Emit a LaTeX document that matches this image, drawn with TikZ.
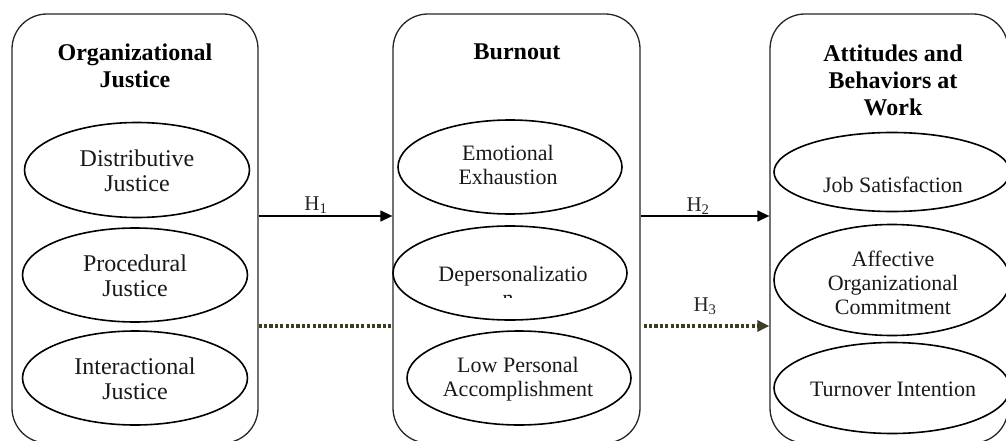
\documentclass[tikz,border=0pt]{standalone}
\usepackage{fontspec}
\setmainfont{Liberation Serif}
\usetikzlibrary{shapes.geometric,arrows.meta}
\definecolor{olivedot}{HTML}{3E3C22}
\tikzset{
  panel/.style={draw=black!85, line width=1.3pt, rounded corners=35pt, minimum width=#1, minimum height=429pt, inner sep=0pt},
  ell/.style={draw, ellipse, line width=1.6pt, inner sep=0pt},
  txt/.style={align=center, font=\fontsize{22}{24}\selectfont, inner sep=0pt, text=black!90},
  txtl/.style={align=center, font=\fontsize{24}{25}\selectfont, inner sep=0pt, text=black!90},
  ttl/.style={align=center, font=\fontsize{24}{27}\selectfont\bfseries, inner sep=0pt},
  hl/.style={font=\fontsize{21}{24}\selectfont, inner sep=0pt, text=black!85},
  arr/.style={line width=1.3pt, -{Triangle[length=12pt,width=11pt]}},
  dotarr/.style={line width=3.2pt, olivedot, dash pattern=on 3.2pt off 2.2pt, -{Triangle[length=12pt,width=11pt]}},
  dotline/.style={line width=3.2pt, olivedot, dash pattern=on 3.2pt off 2.2pt}
}
\begin{document}
\begin{tikzpicture}[x=1pt,y=-1pt]
\useasboundingbox (0,0) rectangle (1006,441);
\clip (0,0) rectangle (1006,441);
% panels
\node[panel=246pt] (lp) at (135,228.5) {};
\node[panel=247pt] (mp) at (516.5,228.5) {};
\node[panel=238pt] (rp) at (889,228.5) {};
% titles
\node[ttl] (t1) at (135,66) {Organizational\\Justice};
\node[ttl] (t2) at (517,52) {Burnout};
\node[ttl] (t3) at (893,80) {Attitudes and\\Behaviors at\\Work};
% left ellipses
\node[ell, minimum width=225pt, minimum height=95pt] (e1) at (137,170) {};
\node[txtl] (x1) at (137,171) {Distributive\\Justice};
\node[ell, minimum width=225pt, minimum height=94pt] (e2) at (135,275) {};
\node[txtl] (x2) at (135,276) {Procedural\\Justice};
\node[ell, minimum width=225pt, minimum height=94pt] (e3) at (135,378) {};
\node[txtl] (x3) at (135,379) {Interactional\\Justice};
% middle ellipses
\node[ell, minimum width=224pt, minimum height=94pt] (e4) at (510,167) {};
\node[txt] (x4) at (508,165) {Emotional\\Exhaustion};
\node[ell, minimum width=234pt, minimum height=94pt] (e5) at (510,273) {};
\node[txt] (x5) at (513,276) {Depersonalizatio};
\begin{scope}
\clip (490,289) rectangle (530,297);
\node[txt] (x5b) at (508,300) {n};
\end{scope}
\node[ell, minimum width=224pt, minimum height=94pt] (e6) at (519,378) {};
\node[txt] (x6) at (518,379) {Low Personal\\Accomplishment};
% right ellipses
\node[ell, minimum width=236pt, minimum height=79pt] (e7) at (892,172) {};
\node[txt] (x7) at (893,185) {Job Satisfaction};
\node[ell, minimum width=236pt, minimum height=111pt] (e8) at (892,280) {};
\node[txt] (x8) at (893,283) {Affective\\Organizational\\Commitment};
\node[ell, minimum width=236pt, minimum height=91pt] (e9) at (892,388) {};
\node[txt] (x9) at (893,389) {Turnover Intention};
% connectors
\draw[arr] (lp.east |- 0,216) -- (mp.west |- 0,216);
\draw[arr] (mp.east |- 0,216) -- (rp.west |- 0,216);
\draw[dotline] (lp.east |- 0,326) -- (mp.west |- 0,326);
\draw[dotarr] ([xshift=3pt]mp.east |- 0,326) -- (rp.west |- 0,326);
% labels
\node[hl] (h1) at (316,205) {H\textsubscript{1}};
\node[hl] (h2) at (698,206) {H\textsubscript{2}};
\node[hl] (h3) at (705,306) {H\textsubscript{3}};
\end{tikzpicture}
\end{document}
